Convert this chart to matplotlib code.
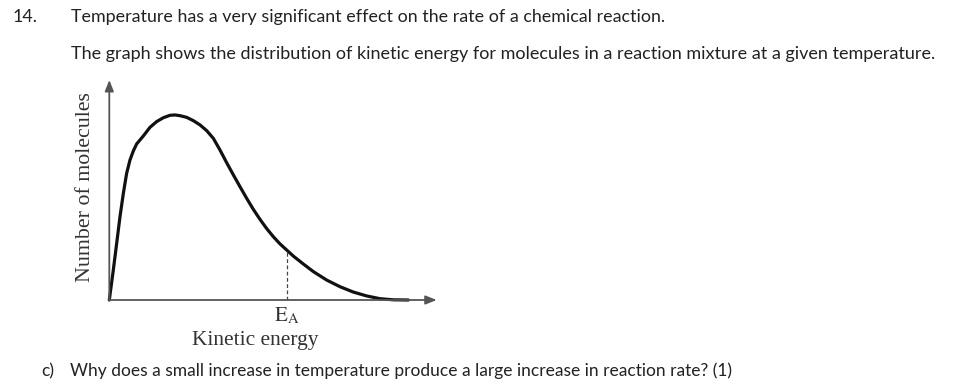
import matplotlib
matplotlib.use("Agg")
import matplotlib.pyplot as plt
import matplotlib.transforms as mtransforms

# ---- data (arbitrary units) ----
energy = [0, 1.23, 2.25, 3.27, 4.29, 5.30, 6.32, 7.34, 8.36, 10.39, 12.43,
          14.47, 16.50, 18.54, 20.07, 21.59, 23.63, 25.67, 27.70, 29.74,
          31.78, 33.81, 35.85, 37.89, 39.92, 41.96, 44.0, 46.03, 48.07,
          50.1, 52.14, 54.18, 56.21, 59.27, 62.32, 66.4, 70.47, 74.54,
          78.61, 82.69, 86.76, 91.35]
molecules = [0, 16.3, 30.7, 45.2, 57.8, 68.7, 75.9, 80.8, 84.6, 88.9, 93.6,
             96.7, 98.8, 100.1, 100.3, 99.9, 99.0, 97.2, 94.9, 91.8,
             87.6, 81.3, 74.4, 67.8, 61.4, 55.1, 49.1, 43.7, 38.7,
             34.3, 30.4, 27.1, 23.8, 19.5, 15.4, 10.8, 7.2, 4.3,
             2.2, 0.7, 0.1, 0]
ea_value = 54.3
ea_height = 27.0

question_number = "14."
line1 = "Temperature has a very significant effect on the rate of a chemical reaction."
line2 = "The graph shows the distribution of kinetic energy for molecules in a reaction mixture at a given temperature."
part_label = "c)"
part_text = "Why does a small increase in temperature produce a large increase in reaction rate? (1)"
xlabel = "Kinetic energy"
ylabel = "Number of molecules"
ea_label = r"$\mathrm{E}_\mathrm{A}$"

plt.rcParams['mathtext.fontset'] = 'stix'

W, H = 962, 385
fig = plt.figure(figsize=(W / 100, H / 100), dpi=100)
fig.patch.set_facecolor("white")

# overlay in pixel coordinates for page text
ov = fig.add_axes([0, 0, 1, 1])
ov.set_xlim(0, W)
ov.set_ylim(H, 0)
ov.axis("off")

# chart axes
x0, x1, yb, yt = 109.3, 436.7, 300.0, 80.0
ax = fig.add_axes([x0 / W, (H - yb) / H, (x1 - x0) / W, (yb - yt) / H])
ax.set_xlim(0, 100)
ax.set_ylim(0, (yb - yt) / 1.845)
ax.axis("off")
ax.patch.set_visible(False)

axis_col = "#555555"
ax.annotate("", xy=(100, 0), xytext=(0, 0),
            arrowprops=dict(arrowstyle="-|>,head_length=0.55,head_width=0.22",
                            color=axis_col, lw=1.3, shrinkA=0, shrinkB=0,
                            mutation_scale=12), annotation_clip=False)
ax.annotate("", xy=(0, ax.get_ylim()[1]), xytext=(0, 0),
            arrowprops=dict(arrowstyle="-|>,head_length=0.55,head_width=0.22",
                            color=axis_col, lw=1.3, shrinkA=0, shrinkB=0,
                            mutation_scale=12), annotation_clip=False)

ax.plot(energy, molecules, color="#111111", lw=2.3, solid_joinstyle="round",
        solid_capstyle="round", clip_on=False)
ax.plot([ea_value, ea_value], [0, ea_height], color="#444444", lw=0.9,
        linestyle=(0, (3, 2)), clip_on=False)

renderer = fig.canvas.get_renderer()


def fit_width(t, target, vertical=False):
    bb = t.get_window_extent(renderer)
    cur = bb.height if vertical else bb.width
    t.set_fontsize(t.get_fontsize() * target / cur)


txt_col = "#222222"
sans = ["Lato", "DejaVu Sans"]
serif = ["Liberation Serif", "DejaVu Serif"]

t = ov.text(13, 22, question_number, fontsize=11, family=sans, color=txt_col,
            va="baseline", ha="left")
t1 = ov.text(71, 22, line1, fontsize=11, family=sans, color=txt_col,
             va="baseline", ha="left")
fit_width(t1, 663 - 71)
t.set_fontsize(t1.get_fontsize())
t2 = ov.text(71, 59, line2, fontsize=11, family=sans, color=txt_col,
             va="baseline", ha="left")
fit_width(t2, 932 - 71)
tc = ov.text(41, 376, part_label, fontsize=11, family=sans, color=txt_col,
             va="baseline", ha="left")
tp = ov.text(70, 376, part_text, fontsize=11, family=sans, color=txt_col,
             va="baseline", ha="left")
fit_width(tp, 728 - 70)
tc.set_fontsize(tp.get_fontsize())

chart_col = "#333333"
ty = ov.text(86, 186.7, ylabel, fontsize=12, family=serif, color=chart_col,
             rotation=90, ha="center", va="center")
fit_width(ty, 190, vertical=True)
tx = ov.text(255.5, 345, xlabel, fontsize=12, family=serif, color=chart_col,
             ha="center", va="baseline")
fit_width(tx, 126)

blend = mtransforms.blended_transform_factory(ax.transData, ov.transData)
te = ax.text(ea_value, 321.7, ea_label, fontsize=15, color=chart_col,
             ha="center", va="baseline", transform=blend)

fig.savefig("out.png", dpi=100, facecolor="white")
